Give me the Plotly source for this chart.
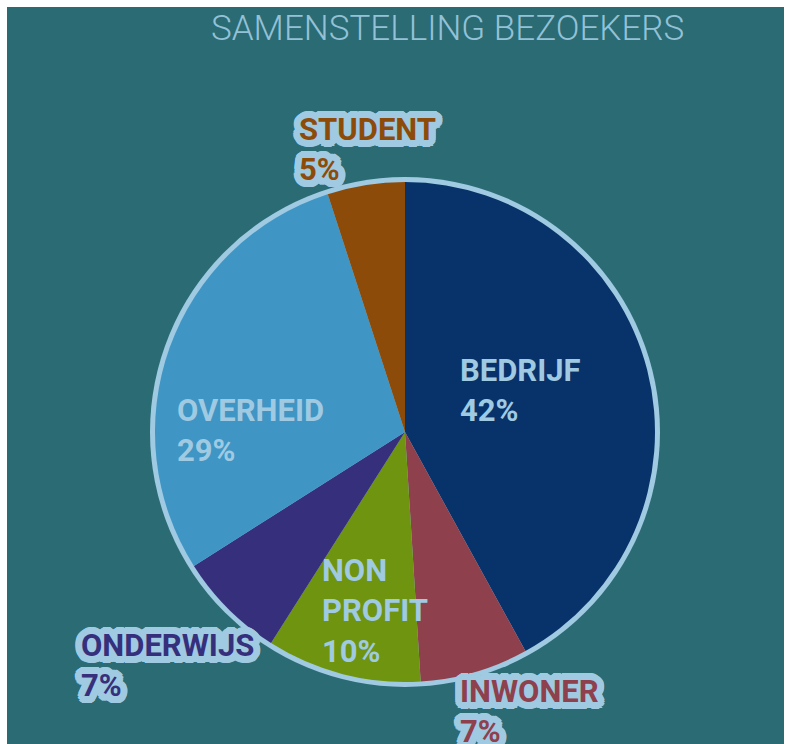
import math
import plotly.graph_objects as go

# ---------------- data ----------------
categories = ["BEDRIJF", "INWONER", "NON PROFIT", "ONDERWIJS", "OVERHEID", "STUDENT"]
label_lines = ["BEDRIJF", "INWONER", "NON<br>PROFIT", "ONDERWIJS", "OVERHEID", "STUDENT"]
values = [42, 7, 10, 7, 29, 5]
title_text = "SAMENSTELLING BEZOEKERS"

# ---------------- style ----------------
slice_colors = ["#07336a", "#8e404c", "#6e9410", "#36307c", "#3f95c4", "#8d4b0a"]
light = "#9fcae2"
bg = "#2a6b74"
# label placement: (angle offset from slice middle in deg, radius in px, outside?)
label_style = [(-5.5, 123, False), (-7.9, 306, True), (-4.9, 181, False),
               (0.4, 333, True), (-19.1, 155, False), (1.5, 285, True)]

W, H = 787, 744
ML, MR, MT, MB = 7, 3, 7, 0
PW, PH = W - ML - MR, H - MT - MB
CX, CY = 405, 432
R_PIE, R_RING = 250, 255


def px_x(px):
    return (px - ML) / PW


def px_y(py):
    return (H - MB - py) / PH


def dom(r):
    return dict(x=[px_x(CX - r), px_x(CX + r)], y=[px_y(CY + r), px_y(CY - r)])


fig = go.Figure()
# light blue ring behind the pie
fig.add_trace(go.Pie(values=[1], labels=["ring"], marker=dict(colors=[light]),
                     textinfo="none", hoverinfo="skip", showlegend=False,
                     domain=dom(R_RING), sort=False))
fig.add_trace(go.Pie(values=values, labels=categories, marker=dict(colors=slice_colors, line=dict(width=0)),
                     textinfo="none", direction="clockwise", sort=False, rotation=0,
                     showlegend=False, domain=dom(R_PIE)))

# halo shadow (thick rounded outline)
offs = []
for rr, n in ((2.5, 12), (5, 20), (7, 28)):
    for k in range(n):
        a = 2 * math.pi * k / n
        offs.append(f"{light} {rr*math.cos(a):.1f}px {rr*math.sin(a):.1f}px 0px")
halo = ", ".join(offs)

total = sum(values)
cum = 0
annotations = []
for cat, lines, v, col, (doff, rad, outside) in zip(categories, label_lines, values, slice_colors, label_style):
    mid = (cum + v / 2) / total * 360
    cum += v
    th = math.radians(mid + doff)
    x = CX + rad * math.sin(th)
    y = CY - rad * math.cos(th)
    txt = f"<b>{lines}<br>{v}%</b>"
    font = dict(family="Roboto", size=31, color=col if outside else light)
    if outside:
        font["shadow"] = halo
    annotations.append(dict(x=px_x(x), y=px_y(y), xref="paper", yref="paper", text=txt,
                            showarrow=False, align="left", xanchor="center", yanchor="middle",
                            font=font))

annotations.append(dict(x=px_x(447), y=px_y(29), xref="paper", yref="paper", text=title_text,
                        showarrow=False, xanchor="center", yanchor="middle",
                        font=dict(family="Roboto", size=35, weight=300, color="#93c1d6")))

fig.update_layout(
    width=W, height=H,
    margin=dict(l=ML, r=MR, t=MT, b=MB),
    paper_bgcolor="white",
    annotations=annotations,
    shapes=[dict(type="rect", xref="paper", yref="paper", x0=0, x1=1, y0=0, y1=1,
                 fillcolor=bg, line=dict(width=0), layer="below")],
)

fig.write_html("out.html", config={"displayModeBar": False},
               post_script="document.body.style.margin='0';document.body.style.overflow='hidden';")
